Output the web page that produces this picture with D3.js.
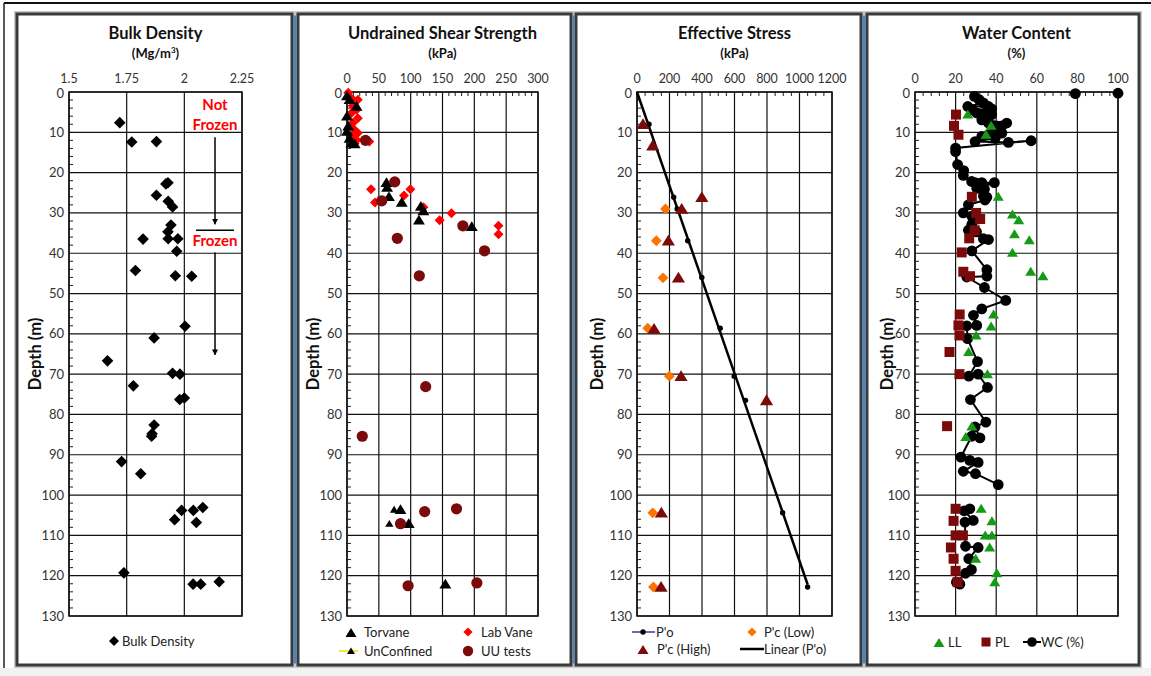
<!DOCTYPE html>
<html>
<head>
<meta charset="utf-8">
<script src="https://cdn.jsdelivr.net/npm/d3@7"></script>
<style>
  body { margin: 0; background: #fff; }
  svg { display: block; font-family: Lato, "Open Sans", sans-serif; }
</style>
</head>
<body>
<svg width="1151" height="676"></svg>
<script>

// ===============================================================================================================
// ================================================ DATA (value, depth m) ========================================
// ===============================================================================================================
const depthTicks = [0, 10, 20, 30, 40, 50, 60, 70, 80, 90, 100, 110, 120, 130];

const bdTicks = [1.5, 1.75, 2, 2.25];
const bulkDensity = [
  [1.72, 7.6], [1.772, 12.4], [1.879, 12.3], [1.929, 22.5], [1.92, 22.8], [1.879, 25.6], [1.93, 27.1],
  [1.949, 28.5], [1.942, 33.0], [1.929, 34.7], [1.93, 36.4], [1.821, 36.5], [1.972, 36.4], [1.967, 39.5],
  [1.788, 44.3], [1.961, 45.6], [2.032, 45.7], [2.003, 58.1], [1.869, 61.0], [1.667, 66.7], [1.779, 72.9],
  [1.949, 69.8], [1.981, 70.0], [1.98, 76.3], [2.0, 75.9], [1.869, 82.6], [1.86, 84.8], [1.858, 85.4],
  [1.728, 91.7], [1.811, 94.7], [1.988, 103.8], [2.039, 103.8], [2.08, 103.1], [1.958, 106.1],
  [2.052, 106.8], [1.738, 119.3], [2.038, 122.1], [2.071, 122.1], [2.151, 121.5]
];
// frozen / not frozen annotation: x position, depths
const frozenX = 2.133;
const frozenDepths = { arrow1: [11.2, 32.8], line: 34.3, arrow2: [39.8, 65.2] };

const suTicks = [0, 50, 100, 150, 200, 250, 300];
const torvane = [
  [0, 1], [4, 1.9], [15, 3.6], [0, 6], [2, 8.5], [0, 9.8], [4, 11.5], [7, 12.7], [12, 12.9],
  [62, 22.5], [63, 23.7], [66, 26], [86, 27.4], [116, 28.4], [120, 29.5], [113, 31.8], [196, 33.4],
  [84, 103.6], [97, 107.1], [154.5, 122.1]
];
const unconfined = [[74, 103.6], [66.5, 107.1]];
const labVane = [
  [2, 0.2], [7, 1.6], [12, 2.3], [17, 1.9], [9, 3.4], [15, 4.4], [7, 5.2], [17, 6.5], [9, 7.7], [12, 9.4],
  [17, 10.2], [9, 11], [15, 11.9], [35, 12.3], [12, 12.7],
  [37.7, 24.1], [44, 27.4], [99.5, 24.1], [89.5, 25.7], [120, 28.6], [145.5, 31.8], [164, 30.1],
  [238, 33.2], [238, 35.3]
];
const uuTests = [
  [29, 12.0], [75, 22.3], [54.5, 27.0], [182, 33.2], [79, 36.3], [216, 39.4], [113.6, 45.6],
  [123.6, 73.1], [24, 85.4], [84, 107.1], [122, 104.1], [172, 103.4], [96, 122.5], [204, 121.8]
];

const esTicks = [0, 200, 400, 600, 800, 1000, 1200];
const pO = [
  [74, 8.0], [226, 26.1], [247, 29.0], [312, 36.9], [399, 46.0], [512, 58.6], [598, 70.5],
  [668, 76.5], [896, 104.4], [1050, 122.8]
];
const pcLow = [[175, 29.0], [119, 36.9], [160, 46.1], [66, 58.6], [199, 70.5], [97, 104.4], [101, 122.8]];
const pcHigh = [
  [37, 8.0], [97, 13.3], [399, 26.1], [275, 29.0], [193, 36.9], [255, 46.1], [105, 58.8],
  [271, 70.5], [797, 76.5], [150, 104.4], [148, 122.8]
];

const wcTicks = [0, 20, 40, 60, 80, 100];
const liquidLimit = [
  [26, 5.6], [37.5, 8.4], [35, 10.6], [41, 26], [48, 30.4], [51.1, 31.8], [49, 35.3], [56.3, 36.8],
  [48, 39.9], [57, 44.6], [63, 45.7], [38.7, 55.2], [37.5, 58.2], [30.1, 60.4], [26.4, 64.5],
  [35.7, 70], [28, 83.0], [25, 85.6], [32.6, 103.4], [37.9, 106.5], [34.6, 110], [37.9, 110],
  [36.8, 113], [29.9, 115.8], [40.3, 119.4], [39.3, 121.6]
];
const plasticLimit = [
  [20.2, 5.6], [19.2, 8.4], [21.4, 10.6], [28, 26], [30.1, 30], [32.1, 31.5], [29.4, 34.3], [26.7, 36.3],
  [23, 39.8], [23.8, 44.6], [27.1, 45.7], [22, 55.2], [21.4, 57.9], [21.9, 60.4], [17, 64.5], [21.9, 70],
  [15.8, 82.9], [20, 103.4], [19, 106.4], [20, 110], [23.6, 110], [17.7, 113], [19, 115.8], [20, 118.8],
  [21, 121.6]
];
// null = break in the line
const waterContent = [
  [100, 0.3], null, [79, 0.4], null, [29.3, 1.1], [31.6, 1.9], [33.7, 2.7], [26, 3.6], [36.2, 3.6], [37.8, 4.2],
  [28, 4.4], [30.4, 5.2], [33.7, 5.6], [37.8, 5.6], [32.9, 6.9], [45.2, 7.7], [36.2, 7.7], [42.8, 8.4],
  [39.5, 9.4], [42.8, 10.2], [36.2, 10.6], [32.9, 11.0], [39.5, 11.5], [29.6, 12.3], [46, 12.5],
  [57.2, 12.1], [20, 13.9], [20, 14.8], [21, 18], [24, 19.5], [23.8, 20.7], [27.9, 22.2], [29.6, 22.5],
  [32.9, 22.5], [39.1, 22.5], [30.4, 23.9], [34.2, 24.1], [33.7, 25.8], [35.4, 26.1], [34.5, 26.8],
  [26.3, 28], [23.8, 30], [28, 30.8], [31.2, 31.5], [28, 32.8], [26.3, 34.3], [30.3, 34.7], [33.7, 36.4],
  [36.2, 36.6], [28, 39.4], [35.4, 44.1], [35.4, 45.7], [25.5, 45.9], [34.2, 48.5], [44.7, 51.7],
  [32.9, 53.8], [28.8, 55.4], [30.4, 57.9], [25.5, 58], [25.9, 61.2], [30.8, 66.9], [26.5, 70.5],
  [31.1, 70], [35.7, 73.3], [27.3, 76.3], [34.9, 81.9], [29.6, 83.1], [32, 85.8], [27.9, 85.4],
  [22.6, 90.6], [27, 91.4], [31.1, 91.9], [23.8, 94.1], [29.8, 94.7], [41, 97.4], null,
  [27, 103.4], [24.2, 103.9], [28.7, 106.3], [24.6, 106.7], [24.9, 112.7], [31.1, 113], [26.5, 115.8],
  [27.8, 118.5], [24.9, 119.4], [20.4, 121.6], [22.1, 122.1]
];

// ===============================================================================================================
// ================================================ HELPERS ======================================================
// ===============================================================================================================
const svg = d3.select("svg");
const y = d3.scaleLinear().domain([0, 130]).range([92, 616]);

const shape = {
  diamond: r => `M0,${-r}L${r},0L0,${r}L${-r},0Z`,
  triangle: r => `M0,${-r}L${r * 1.1},${r * 0.8}L${-r * 1.1},${r * 0.8}Z`,
  square: r => `M${-r},${-r}H${r}V${r}H${-r}Z`,
  circle: r => `M${r},0A${r},${r} 0 1,1 ${-r},0A${r},${r} 0 1,1 ${r},0Z`
};

function marks(g, data, x, kind, r, color) {
  g.append("g").selectAll("path")
    .data(data)
    .enter().append("path")
    .attr("transform", d => `translate(${x(d[0])},${y(d[1])})`)
    .attr("d", shape[kind](r))
    .style("fill", color);
}

function legendMark(g, px, py, kind, r, color) {
  g.append("path").attr("transform", `translate(${px},${py})`).attr("d", shape[kind](r)).style("fill", color);
}

function legendText(g, px, py, txt) {
  g.append("text").attr("x", px).attr("y", py).attr("dy", "0.35em")
    .style("font-size", "13px").style("fill", "#222").text(txt);
}

// ===============================================================================================================
// ================================================ FRAMES =======================================================
// ===============================================================================================================
svg.append("rect").attr("x", 0).attr("y", 668).attr("width", 1151).attr("height", 8).style("fill", "#f2f2f2");
svg.append("line").attr("x1", 4).attr("x2", 1151).attr("y1", 3).attr("y2", 3).style("stroke", "#111").style("stroke-width", 2);
svg.append("line").attr("x1", 4).attr("x2", 4).attr("y1", 3).attr("y2", 668).style("stroke", "#222").style("stroke-width", 1.5);

const frames = [[17, 292], [298, 571], [576, 861], [867, 1139]];
[[293, 297], [572, 575], [862, 866]].forEach(s => {
  svg.append("rect").attr("x", s[0]).attr("y", 14).attr("width", s[1] - s[0]).attr("height", 651).style("fill", "#4f81bd");
});
frames.forEach(f => {
  svg.append("rect").attr("x", f[0]).attr("y", 14).attr("width", f[1] - f[0]).attr("height", 651)
    .style("fill", "none").style("stroke", "#c8c8c8").style("stroke-width", 6);
  svg.append("rect").attr("x", f[0]).attr("y", 14).attr("width", f[1] - f[0]).attr("height", 651)
    .style("fill", "#fff").style("stroke", "#3a3a3a").style("stroke-width", 3);
});
// blue strips drawn again on top so the halo doesn't cover them
[[293.5, 296.5], [572.5, 574.5], [862.5, 865.5]].forEach(s => {
  svg.append("rect").attr("x", s[0]).attr("y", 15.5).attr("width", s[1] - s[0]).attr("height", 648).style("fill", "#4f81bd");
});

// ===============================================================================================================
// ================================================ PANEL (axes + grid) ==========================================
// ===============================================================================================================
function panel(opt) {
  const x = d3.scaleLinear().domain(opt.domain).range(opt.range);
  const g = svg.append("g");
  const [x0, x1] = opt.range;
  const cx = (x0 + x1) / 2;

  // title
  g.append("text").attr("x", cx).attr("y", 39).attr("text-anchor", "middle")
    .style("font-size", "16.5px").style("font-weight", "bold").style("fill", "#111").text(opt.title);
  const sub = g.append("text").attr("x", cx).attr("y", 58).attr("text-anchor", "middle")
    .style("font-size", "13px").style("font-weight", "bold").style("fill", "#111");
  if (opt.sup) {
    sub.append("tspan").text(opt.unit);
    sub.append("tspan").attr("dy", -5).style("font-size", "8px").text(opt.sup);
    sub.append("tspan").attr("dy", 5).text(")");
  } else sub.text(opt.unit);

  // grid
  g.append("g").selectAll("line").data(depthTicks).enter().append("line")
    .attr("x1", x0).attr("x2", x1).attr("y1", d => y(d)).attr("y2", d => y(d))
    .style("stroke", "#111").style("stroke-width", 1.2);
  g.append("g").selectAll("line").data(opt.ticks).enter().append("line")
    .attr("x1", d => x(d)).attr("x2", d => x(d)).attr("y1", y(0)).attr("y2", y(130))
    .style("stroke", "#111").style("stroke-width", 1.2);

  // minor ticks
  const yMinor = d3.range(0, 131, 2).filter(d => d % 10 !== 0);
  g.append("g").selectAll("line").data(yMinor).enter().append("line")
    .attr("x1", x0).attr("x2", x0 + 4).attr("y1", d => y(d)).attr("y2", d => y(d))
    .style("stroke", "#222").style("stroke-width", 1);
  if (opt.minorStep) {
    const xm = d3.range(opt.domain[0], opt.domain[1] + 0.001, opt.minorStep).filter(d => opt.ticks.indexOf(d) < 0);
    g.append("g").selectAll("line").data(xm).enter().append("line")
      .attr("x1", d => x(d)).attr("x2", d => x(d)).attr("y1", y(0)).attr("y2", y(0) + 4)
      .style("stroke", "#222").style("stroke-width", 1);
  }

  // tick labels
  g.append("g").selectAll("text").data(opt.ticks).enter().append("text")
    .attr("x", d => x(d)).attr("y", 83).attr("text-anchor", "middle")
    .style("font-size", "12.5px").style("fill", "#333").text(d => d);
  g.append("g").selectAll("text").data(depthTicks).enter().append("text")
    .attr("x", x0 - 5).attr("y", d => y(d) + (d === 0 ? 1 : 0)).attr("dy", "0.35em").attr("text-anchor", "end")
    .style("font-size", "13px").style("fill", "#333").text(d => d);

  // frame
  g.append("rect").attr("x", x0).attr("y", y(0)).attr("width", x1 - x0).attr("height", y(130) - y(0))
    .style("fill", "none").style("stroke", "#111").style("stroke-width", 1.5);

  // y axis title
  g.append("text").attr("transform", `translate(${opt.ylab},${(y(0) + y(130)) / 2}) rotate(-90)`)
    .attr("text-anchor", "middle").attr("dy", "0.35em")
    .style("font-size", "16.5px").style("font-weight", "bold").style("fill", "#111").text("Depth (m)");

  g.x = x;
  return g;
}

// ---------------- Bulk density
const p1 = panel({ title: "Bulk Density", unit: "(Mg/m", sup: "3", domain: [1.5, 2.25], range: [69, 242], ticks: bdTicks, ylab: 35 });
marks(p1, bulkDensity, p1.x, "diamond", 5.8, "#000");

const fx = p1.x(frozenX);
p1.append("text").attr("x", fx).attr("y", 110).attr("text-anchor", "middle")
  .style("font-size", "15px").style("font-weight", "bold").style("fill", "#ff0000").text("Not");
p1.append("text").attr("x", fx).attr("y", 130).attr("text-anchor", "middle")
  .style("font-size", "15px").style("font-weight", "bold").style("fill", "#ff0000").text("Frozen");
p1.append("text").attr("x", fx).attr("y", 246).attr("text-anchor", "middle")
  .style("font-size", "15px").style("font-weight", "bold").style("fill", "#ff0000").text("Frozen");
svg.append("defs").append("marker").attr("id", "arr").attr("viewBox", "0 0 10 10").attr("refX", 9).attr("refY", 5)
  .attr("markerWidth", 4).attr("markerHeight", 4).attr("orient", "auto")
  .append("path").attr("d", "M0,0L10,5L0,10Z").style("fill", "#000");
[frozenDepths.arrow1, frozenDepths.arrow2].forEach(a => {
  p1.append("line").attr("x1", fx).attr("x2", fx).attr("y1", y(a[0])).attr("y2", y(a[1]))
    .style("stroke", "#000").style("stroke-width", 1.5).attr("marker-end", "url(#arr)");
});
p1.append("line").attr("x1", fx - 19).attr("x2", fx + 19).attr("y1", y(frozenDepths.line)).attr("y2", y(frozenDepths.line))
  .style("stroke", "#000").style("stroke-width", 1.5);

legendMark(p1, 114, 641, "diamond", 5, "#000");
legendText(p1, 122, 641, "Bulk Density");

// ---------------- Undrained shear strength
const p2 = panel({ title: "Undrained Shear Strength", unit: "(kPa)", domain: [0, 300], range: [347, 538], ticks: suTicks, minorStep: 10, ylab: 313 });
marks(p2, labVane, p2.x, "diamond", 5, "#ff0000");
marks(p2, torvane, p2.x, "triangle", 5.4, "#000");
marks(p2, unconfined, p2.x, "triangle", 3.8, "#000");
marks(p2, uuTests, p2.x, "circle", 5.6, "#7b0a0a");

legendMark(p2, 351, 633, "triangle", 5, "#000");
legendText(p2, 364, 632, "Torvane");
p2.append("line").attr("x1", 339).attr("x2", 358).attr("y1", 651).attr("y2", 651).style("stroke", "#f5e000").style("stroke-width", 1.5);
legendMark(p2, 351, 651, "triangle", 3.6, "#000");
legendText(p2, 364, 651, "UnConfined");
legendMark(p2, 468, 632, "diamond", 4.6, "#ff0000");
legendText(p2, 481, 632, "Lab Vane");
legendMark(p2, 468, 651, "circle", 5.2, "#7b0a0a");
legendText(p2, 481, 651, "UU tests");

// ---------------- Effective stress
const p3 = panel({ title: "Effective Stress", unit: "(kPa)", domain: [0, 1200], range: [637, 832], ticks: esTicks, minorStep: 50, ylab: 597 });
// linear trendline through origin, least squares
const k = d3.sum(pO, d => d[0] * d[1]) / d3.sum(pO, d => d[0] * d[0]);
const sMax = d3.max(pO, d => d[0]);
p3.append("line").attr("x1", p3.x(0)).attr("y1", y(0)).attr("x2", p3.x(sMax)).attr("y2", y(k * sMax))
  .style("stroke", "#000").style("stroke-width", 2.5);
marks(p3, pO, p3.x, "circle", 2.7, "#000");
marks(p3, pcLow, p3.x, "diamond", 5.4, "#fb7400");
marks(p3, pcHigh, p3.x, "triangle", 6, "#7b0a0a");

p3.append("line").attr("x1", 632).attr("x2", 655).attr("y1", 632).attr("y2", 632).style("stroke", "#3a3aa0").style("stroke-width", 1.5);
legendMark(p3, 643, 632, "circle", 2.7, "#000");
legendText(p3, 656, 632, "P'o");
legendMark(p3, 752, 632, "diamond", 4.6, "#fb7400");
legendText(p3, 764, 632, "P'c (Low)");
legendMark(p3, 643, 650, "triangle", 5, "#7b0a0a");
legendText(p3, 657, 649, "P'c (High)");
p3.append("line").attr("x1", 740).attr("x2", 764).attr("y1", 649).attr("y2", 649).style("stroke", "#000").style("stroke-width", 2.5);
legendText(p3, 764, 649, "Linear (P'o)");

// ---------------- Water content
const p4 = panel({ title: "Water Content", unit: "(%)", domain: [0, 100], range: [915, 1118], ticks: wcTicks, minorStep: 4, ylab: 887 });
const wcLine = d3.line().defined(d => d).x(d => p4.x(d[0])).y(d => y(d[1]));
p4.append("path").attr("d", wcLine(waterContent)).style("fill", "none").style("stroke", "#000").style("stroke-width", 2);
marks(p4, waterContent.filter(d => d), p4.x, "circle", 5.4, "#000");
marks(p4, liquidLimit, p4.x, "triangle", 5, "#159a15");
marks(p4, plasticLimit, p4.x, "square", 5, "#7b0a0a");

legendMark(p4, 939, 643, "triangle", 5, "#159a15");
legendText(p4, 948, 642, "LL");
legendMark(p4, 986, 642, "square", 4.5, "#7b0a0a");
legendText(p4, 995, 642, "PL");
p4.append("line").attr("x1", 1023).attr("x2", 1041).attr("y1", 642).attr("y2", 642).style("stroke", "#000").style("stroke-width", 2);
legendMark(p4, 1032, 642, "circle", 4.8, "#000");
legendText(p4, 1041, 642, "WC (%)");

</script>
</body>
</html>
